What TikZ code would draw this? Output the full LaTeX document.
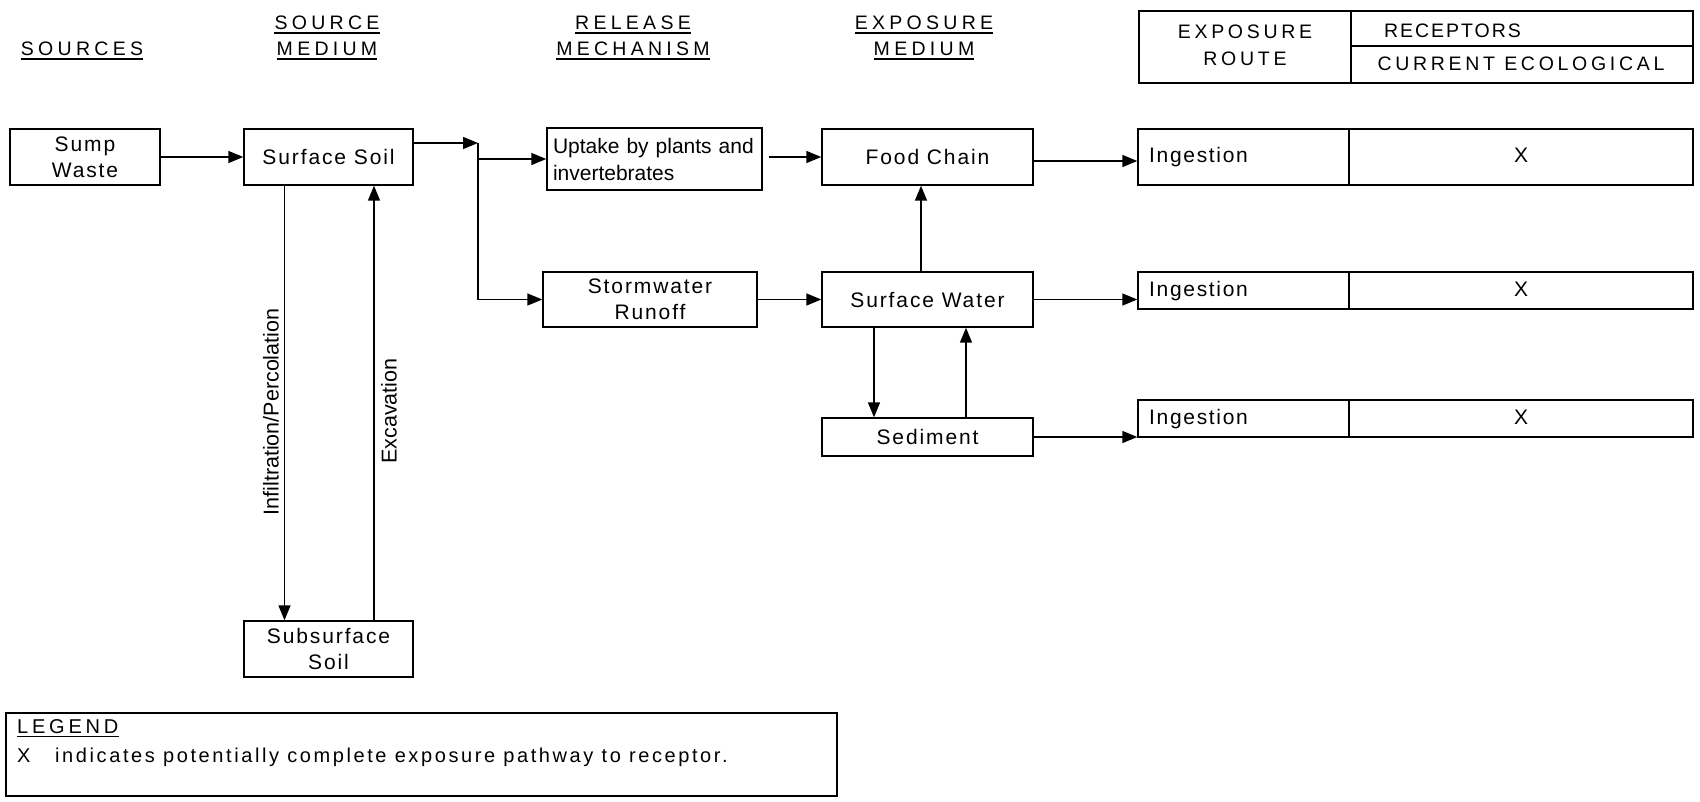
\documentclass[tikz,border=0pt]{standalone}
\usepackage{fontspec}
\setmainfont{Liberation Sans}
\usetikzlibrary{arrows.meta,calc}
\newfontfamily\fBox{Liberation Sans}[LetterSpace=9]
\newfontfamily\fRow{Liberation Sans}[LetterSpace=8]
\newfontfamily\fPlain{Liberation Sans}
\newfontfamily\fTitle{Liberation Sans}[LetterSpace=22]
\newfontfamily\fTab{Liberation Sans}[LetterSpace=19]
\newfontfamily\fRec{Liberation Sans}[LetterSpace=10]
\newfontfamily\fLeg{Liberation Sans}[LetterSpace=13]
\newfontfamily\fLegH{Liberation Sans}[LetterSpace=19]
\begin{document}
\begin{tikzpicture}[x=1pt,y=-1pt,
  box/.style={draw, line width=1.4pt, inner sep=0pt, align=center,
    font=\fBox\fontsize{21}{26}\selectfont},
  cell/.style={draw, line width=1.4pt, inner sep=0pt},
  conn/.style={line width=1.5pt},
  arr/.style={conn, -{Triangle[length=15pt,width=12pt]}},
  title/.style={inner sep=0pt, anchor=base, font=\fTitle\fontsize{19.5}{22}\selectfont},
  tabtxt/.style={inner sep=0pt, anchor=base, font=\fTab\fontsize{19.5}{22}\selectfont},
  rowtxt/.style={inner sep=0pt, anchor=base west, font=\fRow\fontsize{21}{24}\selectfont},
  xtxt/.style={inner sep=0pt, anchor=base, font=\fPlain\fontsize{21}{24}\selectfont},
  lbl/.style={inner sep=0pt, font=\fPlain\fontsize{21.5}{24}\selectfont},
  uline/.style={line width=1.3pt}]
\useasboundingbox (0,0) rectangle (1700,801);

% column titles
\node[title] (tSources) at (82,55) {SOURCES};
\node[title] (tSource) at (327,29) {SOURCE};
\node[title] (tSMedium) at (327,55) {MEDIUM};
\node[title] (tRelease) at (633,29) {RELEASE};
\node[title] (tMech) at (633,55) {MECHANISM};
\node[title] (tExpo) at (924,29) {EXPOSURE};
\node[title] (tEMedium) at (924,55) {MEDIUM};
\foreach \n in {tSources,tSource,tSMedium,tRelease,tMech,tExpo,tEMedium}
  \draw[uline] ([yshift=-4pt]\n.base west) -- ([yshift=-4pt]\n.base east);

% header table
\node[cell, minimum width=212pt, minimum height=72pt] (hdrRoute) at (1245,47) {};
\node[cell, minimum width=342pt, minimum height=35pt] (hdrRec) at (1522,28.5) {};
\node[cell, minimum width=342pt, minimum height=37pt] (hdrCur) at (1522,64.5) {};
\node[tabtxt] (hExpo) at (1245,38) {EXPOSURE};
\node[tabtxt] (hRoute) at (1245,65) {ROUTE};
\node[inner sep=0pt, anchor=base west, font=\fRec\fontsize{19.5}{22}\selectfont] (hRec) at (1384,37) {RECEPTORS};
\node[tabtxt] (hCur) at (1521,70) {CURRENT ECOLOGICAL};

% boxes
\node[box, minimum width=150pt, minimum height=56pt] (sump) at (85,157) {Sump\\Waste};
\node[box, minimum width=169pt, minimum height=56pt] (ssoil) at (328.5,157) {Surface Soil};
\node[box, minimum width=169pt, minimum height=56pt] (subsoil) at (328.5,649) {Subsurface\\Soil};
\node[box, minimum width=215pt, minimum height=62pt, align=left, text width=203pt, inner xsep=6pt,
  font=\fPlain\fontsize{21}{27}\selectfont] (uptake) at (654.5,159) {Uptake by plants and\\invertebrates};
\node[box, minimum width=214pt, minimum height=55pt] (storm) at (650,299.5) {Stormwater\\Runoff};
\node[box, minimum width=211pt, minimum height=56pt] (food) at (927.5,157) {Food Chain};
\node[box, minimum width=211pt, minimum height=55pt] (sw) at (927.5,299.5) {Surface Water};
\node[box, minimum width=211pt, minimum height=38pt] (sed) at (927.5,437) {Sediment};

% receptor rows
\node[cell, minimum width=211pt, minimum height=56pt] (row1a) at (1243.5,157) {};
\node[cell, minimum width=344pt, minimum height=56pt] (row1b) at (1521,157) {};
\node[cell, minimum width=211pt, minimum height=37pt] (row2a) at (1243.5,290.5) {};
\node[cell, minimum width=344pt, minimum height=37pt] (row2b) at (1521,290.5) {};
\node[cell, minimum width=211pt, minimum height=37pt] (row3a) at (1243.5,418.5) {};
\node[cell, minimum width=344pt, minimum height=37pt] (row3b) at (1521,418.5) {};
\node[rowtxt] (ing1) at (1149,162) {Ingestion};
\node[rowtxt] (ing2) at (1149,296) {Ingestion};
\node[rowtxt] (ing3) at (1149,424) {Ingestion};
\node[xtxt] (x1) at (1521,162) {X};
\node[xtxt] (x2) at (1521,296) {X};
\node[xtxt] (x3) at (1521,424) {X};

% connectors
\draw[arr] (sump.east) -- (ssoil.west);
\coordinate (J) at (478,143);
\coordinate (J2) at (J |- storm.west);
\draw[arr] ([yshift=14pt]ssoil.east) -- (J);
\draw[conn] (J) -- (J2);
\draw[arr] (uptake.west -| J) -- (uptake.west);
\draw[arr] (J2) -- (storm.west);
\coordinate (U1) at ([xshift=6pt]uptake.east);
\draw[arr] (U1 |- food.west) -- (food.west);
\draw[arr] (storm.east) -- (sw.west);
\draw[arr] ([yshift=-4pt]food.east) -- ([yshift=-4pt]row1a.west);
\draw[arr] (sw.east) -- (sw.east -| row2a.west);
\draw[arr] (sed.east) -- (sed.east -| row3a.west);
\draw[arr] ([xshift=-6.5pt]sw.north) -- ([xshift=-6.5pt]food.south);
\draw[arr] ([xshift=-53.5pt]sw.south) -- ([xshift=-53.5pt]sed.north);
\draw[arr] ([xshift=38.5pt]sed.north) -- ([xshift=38.5pt]sw.south);
\draw[arr] ([xshift=-44pt]ssoil.south) -- ([xshift=-44pt]subsoil.north);
\draw[arr] ([xshift=45.5pt]subsoil.north) -- ([xshift=45.5pt]ssoil.south);
\node[lbl, rotate=90] (lInf) at (271,412) {Infiltration/Percolation};
\node[lbl, rotate=90] (lExc) at (389,411) {Excavation};

% legend
\node[cell, minimum width=831pt, minimum height=83pt] (legend) at (421.5,754.5) {};
\node[inner sep=0pt, anchor=base west, font=\fLegH\fontsize{20}{22}\selectfont] (legH) at (17,733) {LEGEND};
\draw[uline] ([yshift=-3.5pt]legH.base west) -- ([yshift=-3.5pt]legH.base east);
\node[inner sep=0pt, anchor=base west, font=\fLeg\fontsize{20}{22}\selectfont] (legX) at (17,762) {X};
\node[inner sep=0pt, anchor=base west, font=\fLeg\fontsize{20}{22}\selectfont] (legT) at (55,762) {indicates potentially complete exposure pathway to receptor.};
\end{tikzpicture}
\end{document}
